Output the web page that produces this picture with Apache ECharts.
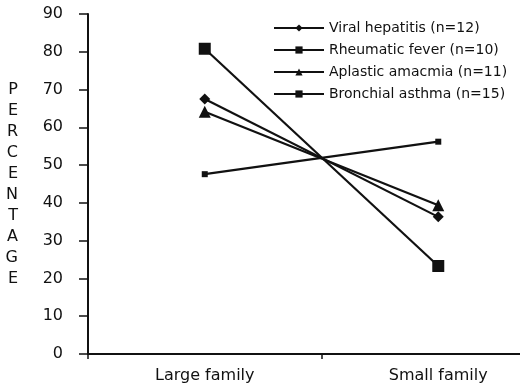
<!DOCTYPE html>
<html>
<head>
<meta charset="utf-8">
<script src="https://cdn.jsdelivr.net/npm/echarts@6/dist/echarts.min.js"></script>
<style>
  html, body { margin: 0; padding: 0; background: #fff; }
  #chart { width: 520px; height: 392px; }
</style>
</head>
<body>
<div id="chart"></div>
<script>
// Family size groups on the horizontal axis
const categories = ['Large family', 'Small family'];

// Percentage of patients in each group, per disease
const viralHepatitis = [67.5, 36.3];
const rheumaticFever = [80.8, 23.3];
const aplasticAmaemia = [64.1, 39.4];
const bronchialAsthma = [47.6, 56.2];

const seriesNames = [
  'Viral hepatitis (n=12)',
  'Rheumatic fever (n=10)',
  'Aplastic amacmia (n=11)',
  'Bronchial asthma (n=15)'
];

const yTicks = { min: 0, max: 90, interval: 10 };

// Category positions on a numeric x axis; ticks sit on the band boundaries
const categoryPositions = categories.map((c, i) => i);
const bandBoundaries = [-0.5, 0.5];

const FONT = '"DejaVu Sans", "Liberation Sans", Arial, sans-serif';
const INK = '#111';

function toPoints(values) {
  return values.map((v, i) => [categoryPositions[i], v]);
}

function lineSeries(name, values, symbol, size) {
  return {
    name: name,
    type: 'line',
    data: toPoints(values),
    symbol: symbol,
    symbolSize: size,
    lineStyle: { color: INK, width: 2.2 },
    itemStyle: { color: INK, borderWidth: 0 },
    emphasis: { disabled: true },
    animation: false
  };
}

const chart = echarts.init(document.getElementById('chart'), null, { renderer: 'canvas' });
chart.setOption({
  backgroundColor: '#fff',
  animation: false,
  grid: { left: 88, top: 14, bottom: 38, right: 0, containLabel: false },
  legend: {
    orient: 'vertical',
    left: 268,
    top: 16,
    itemWidth: 50,
    itemHeight: 9,
    itemGap: 8,
    textStyle: { fontFamily: FONT, fontSize: 14, color: INK },
    data: seriesNames
  },
  xAxis: {
    type: 'value',
    min: -0.5,
    max: 1.35,
    axisLine: { show: true, onZero: false, lineStyle: { color: INK, width: 2 } },
    axisTick: { show: true, customValues: bandBoundaries, length: 5, lineStyle: { color: INK, width: 1.5 } },
    axisLabel: {
      customValues: categoryPositions,
      color: INK, fontFamily: FONT, fontSize: 16, margin: 14,
      formatter: (v) => categories[Math.round(v)] || ''
    },
    splitLine: { show: false }
  },
  yAxis: {
    type: 'value',
    min: yTicks.min,
    max: yTicks.max,
    interval: yTicks.interval,
    name: 'PERCENTAGE'.split('').join('\n'),
    nameLocation: 'middle',
    nameRotate: 0,
    nameGap: 70,
    nameTextStyle: { fontFamily: FONT, fontSize: 16, color: INK, lineHeight: 21 },
    axisLine: { show: true, onZero: false, lineStyle: { color: INK, width: 2 } },
    axisTick: { show: true, length: 9, lineStyle: { color: INK, width: 1.5 } },
    axisLabel: { color: INK, fontFamily: FONT, fontSize: 16, margin: 25 },
    splitLine: { show: false }
  },
  series: [
    lineSeries(seriesNames[0], viralHepatitis, 'diamond', 11),
    lineSeries(seriesNames[1], rheumaticFever, 'rect', 12),
    lineSeries(seriesNames[2], aplasticAmaemia, 'triangle', 12),
    lineSeries(seriesNames[3], bronchialAsthma, 'rect', 6)
  ]
});
</script>
</body>
</html>
